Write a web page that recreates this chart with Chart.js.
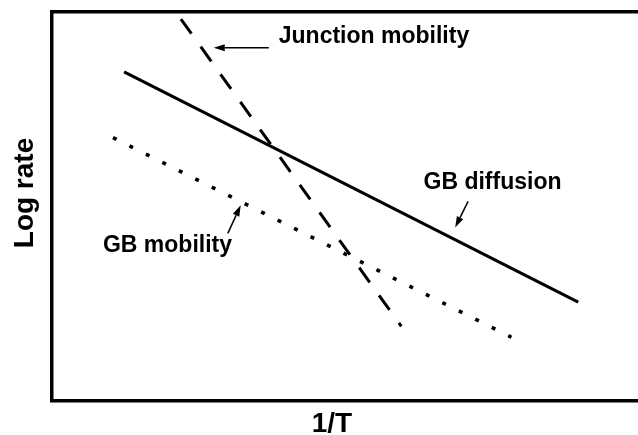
<!DOCTYPE html>
<html>
<head>
<meta charset="utf-8">
<script src="https://cdn.jsdelivr.net/npm/chart.js@4/dist/chart.umd.min.js"></script>
<style>
  html, body { margin: 0; padding: 0; background: #fff; }
  #wrap { width: 638px; height: 435px; }
</style>
</head>
<body>
<div id="wrap"><canvas id="rate-chart"></canvas></div>
<script>
// schematic Arrhenius-type lines, arbitrary units (x = 1/T, y = log rate)
const gb_diffusion = [{x: 12.3, y: 84.6}, {x: 89.8, y: 25.4}]
const junction_mobility = [{x: 22.0, y: 98.2}, {x: 59.6, y: 19.2}]
const gb_mobility = [{x: 10.4, y: 67.7}, {x: 78.4, y: 16.4}]

// labels with arrows: text anchor, arrow from -> to (data units)
const label_names = ['Junction mobility', 'GB diffusion', 'GB mobility']
const label_pos = [[38.7, 93.6], [63.4, 56.2], [8.7, 40.0]]
const arrow_from = [[37.0, 90.8], [71.0, 51.3], [30.0, 43.1]]
const arrow_to = [[27.6, 90.8], [68.8, 44.6], [32.2, 50.3]]

const x_title = '1/T'
const y_title = 'Log rate'

const font_family = 'Arial, "Liberation Sans", Helvetica, sans-serif'

let labels_plugin = {
    id: 'labels_plugin',
    afterDatasetsDraw(chart) {
        let ctx = chart.ctx
        let xs = chart.scales.x
        let ys = chart.scales.y
        ctx.save()
        ctx.fillStyle = '#000'
        ctx.strokeStyle = '#000'
        ctx.font = 'bold 23px ' + font_family
        ctx.textBaseline = 'middle'
        ctx.textAlign = 'left'
        for (let i = 0; i < label_names.length; i++) {
            ctx.fillText(label_names[i], xs.getPixelForValue(label_pos[i][0]), ys.getPixelForValue(label_pos[i][1]))

            let x1 = xs.getPixelForValue(arrow_from[i][0])
            let y1 = ys.getPixelForValue(arrow_from[i][1])
            let x2 = xs.getPixelForValue(arrow_to[i][0])
            let y2 = ys.getPixelForValue(arrow_to[i][1])
            let ang = Math.atan2(y2 - y1, x2 - x1)
            let head = 11
            let bx = x2 - head * Math.cos(ang)
            let by = y2 - head * Math.sin(ang)
            ctx.lineWidth = 1.5
            ctx.beginPath()
            ctx.moveTo(x1, y1)
            ctx.lineTo(bx, by)
            ctx.stroke()
            ctx.beginPath()
            ctx.moveTo(x2, y2)
            ctx.lineTo(bx + 3.5 * Math.sin(ang), by - 3.5 * Math.cos(ang))
            ctx.lineTo(bx - 3.5 * Math.sin(ang), by + 3.5 * Math.cos(ang))
            ctx.closePath()
            ctx.fill()
        }

        // axis titles, placed as in the original figure (slightly off-centre)
        let area = chart.chartArea
        ctx.font = 'bold 28px ' + font_family
        ctx.textAlign = 'center'
        ctx.textBaseline = 'alphabetic'
        ctx.fillText(x_title, 332, area.bottom + 31)
        ctx.translate(33, area.top + 181)
        ctx.rotate(-Math.PI / 2)
        ctx.fillText(y_title, 0, 0)
        ctx.restore()
    }
}

let ctx = document.getElementById('rate-chart')

let data = {
    datasets: [{
        label: 'GB diffusion',
        data: gb_diffusion,
        showLine: true,
        borderColor: '#000',
        borderWidth: 3,
        pointRadius: 0,
    },
    {
        label: 'Junction mobility',
        data: junction_mobility,
        showLine: true,
        borderColor: '#000',
        borderWidth: 3,
        borderDash: [18, 16],
        pointRadius: 0,
    },
    {
        label: 'GB mobility',
        data: gb_mobility,
        showLine: true,
        borderColor: '#000',
        borderWidth: 3.5,
        borderDash: [4, 14.42],
        pointRadius: 0,
    }]
}

let options = {
    responsive: true,
    maintainAspectRatio: false,
    animation: false,
    layout: {padding: {left: 44, top: 4, right: 0, bottom: 26}},
    plugins: {legend: {display: false}, tooltip: {enabled: false}},
    scales: {
        x: {
            type: 'linear', min: 0, max: 100,
            grid: {display: false},
            ticks: {display: false},
            border: {display: true, color: '#000', width: 3.5}
        },
        x2: {
            type: 'linear', position: 'top', min: 0, max: 100,
            grid: {display: false},
            ticks: {display: false},
            border: {display: true, color: '#000', width: 3.5}
        },
        y: {
            type: 'linear', min: 0, max: 100,
            grid: {display: false},
            ticks: {display: false},
            border: {display: true, color: '#000', width: 3.5}
        }
    }
}

let rate_chart = new Chart(ctx, {
    type: 'scatter',
    data: data,
    options: options,
    plugins: [labels_plugin]
})
</script>
</body>
</html>
